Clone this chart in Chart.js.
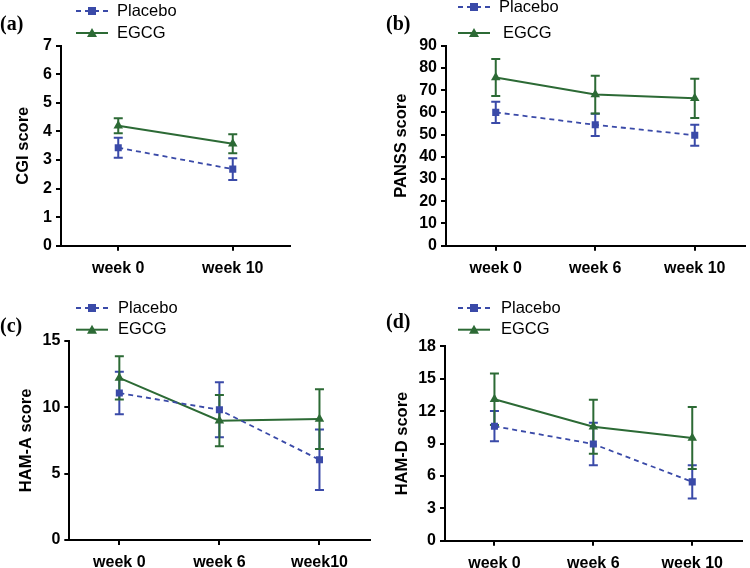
<!DOCTYPE html>
<html><head><meta charset="utf-8">
<script src="https://cdn.jsdelivr.net/npm/chart.js@4.4.0/dist/chart.umd.min.js"></script>
<style>
html,body{margin:0;padding:0;background:#fff;overflow:hidden;width:750px;height:568px;}
canvas{position:absolute;}
</style></head><body>
<canvas id="ca" width="375" height="284" style="left:0;top:0;width:375px;height:284px"></canvas>
<canvas id="cb" width="375" height="284" style="left:375px;top:0;width:375px;height:284px"></canvas>
<canvas id="cc" width="375" height="284" style="left:0;top:284px;width:375px;height:284px"></canvas>
<canvas id="cd" width="375" height="284" style="left:375px;top:284px;width:375px;height:284px"></canvas>
<script>
// ---- data ----
const weeksA = ['week 0', 'week 10'];
const weeksB = ['week 0', 'week 6', 'week 10'];
const weeksC = ['week 0', 'week 6', 'week10'];
const weeksD = ['week 0', 'week 6', 'week 10'];

const cgiPlacebo = [3.43, 2.68];
const cgiPlaceboSD = [0.35, 0.38];
const cgiEGCG = [4.2, 3.57];
const cgiEGCGSD = [0.26, 0.33];

const panssPlacebo = [60.0, 54.4, 49.7];
const panssPlaceboSD = [4.8, 5.0, 4.7];
const panssEGCG = [75.7, 68.0, 66.3];
const panssEGCGSD = [8.3, 8.5, 8.8];

const hamaPlacebo = [11.06, 9.8, 6.04];
const hamaPlaceboSD = [1.6, 2.07, 2.28];
const hamaEGCG = [12.2, 8.98, 9.1];
const hamaEGCGSD = [1.63, 1.93, 2.25];

const hamdPlacebo = [10.6, 8.95, 5.45];
const hamdPlaceboSD = [1.4, 1.96, 1.54];
const hamdEGCG = [13.1, 10.56, 9.5];
const hamdEGCGSD = [2.38, 2.5, 2.87];

const seriesNames = ['Placebo', 'EGCG'];
const BLUE = '#3a4aa8';
const GREEN = '#2c6a35';
const SANS = '"Liberation Sans", Arial, sans-serif';

const errorBars = {
  id: 'errorBars',
  beforeDatasetsDraw(chart) {
    const ctx = chart.ctx;
    const ys = chart.scales.y;
    chart.data.datasets.forEach((ds, i) => {
      const meta = chart.getDatasetMeta(i);
      ctx.save();
      ctx.strokeStyle = ds.borderColor;
      ctx.lineWidth = 2;
      ctx.setLineDash([]);
      meta.data.forEach((pt, j) => {
        const v = ds.data[j], e = ds.sd[j];
        const yHi = ys.getPixelForValue(v + e), yLo = ys.getPixelForValue(v - e);
        const x = pt.x, w = 4.5;
        ctx.beginPath();
        ctx.moveTo(x, yHi); ctx.lineTo(x, yLo);
        ctx.moveTo(x - w, yHi); ctx.lineTo(x + w, yHi);
        ctx.moveTo(x - w, yLo); ctx.lineTo(x + w, yLo);
        ctx.stroke();
      });
      ctx.restore();
    });
  }
};

const customLegend = {
  id: 'customLegend',
  afterDraw(chart, args, opts) {
    const ctx = chart.ctx;
    ctx.save();
    ctx.font = 'bold 20px "Liberation Serif", "Times New Roman", serif';
    ctx.fillStyle = '#000';
    ctx.textBaseline = 'middle';
    ctx.textAlign = 'left';
    ctx.fillText(opts.letter, opts.letterX, opts.letterY);
    chart.data.datasets.forEach((ds, i) => {
      const y = opts.rows[i];
      const x0 = opts.lineX, x1 = opts.lineX + 32, xm = (x0 + x1) / 2;
      ctx.strokeStyle = ds.borderColor;
      ctx.lineWidth = 2;
      ctx.setLineDash(ds.borderDash || []);
      ctx.beginPath(); ctx.moveTo(x0, y); ctx.lineTo(x1, y); ctx.stroke();
      ctx.setLineDash([]);
      ctx.fillStyle = ds.borderColor;
      if (ds.pointStyle === 'rect') {
        ctx.fillRect(xm - 4, y - 4, 8, 8);
      } else {
        ctx.beginPath();
        ctx.moveTo(xm, y - 5); ctx.lineTo(xm + 5, y + 4); ctx.lineTo(xm - 5, y + 4);
        ctx.closePath(); ctx.fill();
      }
      ctx.fillStyle = '#000';
      ctx.font = '16.5px ' + SANS;
      ctx.textBaseline = 'middle';
      ctx.fillText(ds.label, opts.textX[i], y);
    });
    ctx.restore();
  }
};

function makeChart(id, labels, pl, plSD, eg, egSD, cfg) {
  return new Chart(document.getElementById(id), {
    type: 'line',
    data: {
      labels: labels,
      datasets: [
        { label: seriesNames[0], data: pl, sd: plSD, borderColor: BLUE, backgroundColor: BLUE,
          borderWidth: 1.8, borderDash: [5, 4], pointStyle: 'rect', pointRadius: 5,
          pointBorderWidth: 0, tension: 0 },
        { label: seriesNames[1], data: eg, sd: egSD, borderColor: GREEN, backgroundColor: GREEN,
          borderWidth: 2, pointStyle: 'triangle', pointRadius: 5.5,
          pointBorderWidth: 0, tension: 0 }
      ]
    },
    options: {
      responsive: false,
      animation: false,
      layout: { padding: { left: 0, top: cfg.top, right: cfg.right, bottom: 0 } },
      plugins: {
        legend: { display: false },
        tooltip: { enabled: false },
        customLegend: cfg.legend
      },
      scales: {
        x: {
          type: 'category',
          offset: true,
          grid: { display: true, drawOnChartArea: false, drawTicks: true, tickLength: 5,
                  offset: false, color: '#000', tickColor: '#000', lineWidth: 2 },
          border: { display: true, color: '#000', width: 2 },
          ticks: { color: '#000', font: { family: SANS, size: 16, weight: 'bold' }, padding: 8, maxRotation: 0 },
          afterFit: s => { s.height = 284 - cfg.bottom; }
        },
        y: {
          min: 0, max: cfg.max,
          ticks: { stepSize: cfg.step, color: '#000', font: { family: SANS, size: 16, weight: 'bold' }, padding: 4 },
          grid: { display: true, drawOnChartArea: false, drawTicks: true, tickLength: 5,
                  color: '#000', tickColor: '#000', lineWidth: 2 },
          border: { display: true, color: '#000', width: 2 },
          title: { display: true, text: cfg.title, color: '#000',
                   font: { family: SANS, size: 16.5, weight: 'bold' }, padding: { top: cfg.titlePad, bottom: 0 } },
          afterFit: s => { s.width = cfg.left; }
        }
      }
    },
    plugins: [errorBars, customLegend]
  });
}

makeChart('ca', weeksA, cgiPlacebo, cgiPlaceboSD, cgiEGCG, cgiEGCGSD, {
  top: 45.7, bottom: 245.7, left: 61, right: 85, max: 7, step: 1, title: 'CGI score', titlePad: 14,
  legend: { letter: '(a)', letterX: 0, letterY: 25, lineX: 76, rows: [11, 33], textX: [117, 117] }
});
makeChart('cb', weeksB, panssPlacebo, panssPlaceboSD, panssEGCG, panssEGCGSD, {
  top: 45.7, bottom: 245.7, left: 71, right: 0, max: 90, step: 10, title: 'PANSS score', titlePad: 17,
  legend: { letter: '(b)', letterX: 11, letterY: 25, lineX: 83, rows: [7, 33], textX: [124, 128] }
});
makeChart('cc', weeksC, hamaPlacebo, hamaPlaceboSD, hamaEGCG, hamaEGCGSD, {
  top: 56.7, bottom: 256, left: 69.3, right: 3.3, max: 15, step: 5, title: 'HAM-A score', titlePad: 17,
  legend: { letter: '(c)', letterX: 0, letterY: 43, lineX: 76, rows: [24, 45.7], textX: [118, 118] }
});
makeChart('cd', weeksD, hamdPlacebo, hamdPlaceboSD, hamdEGCG, hamdEGCGSD, {
  top: 62.3, bottom: 256.7, left: 70, right: 8.3, max: 18, step: 3, title: 'HAM-D score', titlePad: 17.7,
  legend: { letter: '(d)', letterX: 11, letterY: 39, lineX: 83, rows: [24, 45.7], textX: [126, 126] }
});
</script>
</body></html>
